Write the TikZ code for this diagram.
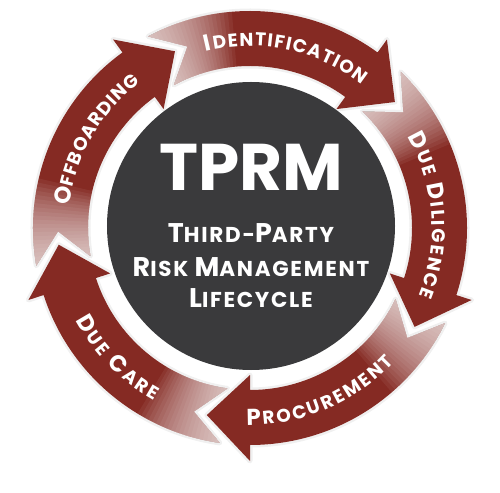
\documentclass[tikz,border=0pt]{standalone}
\usepackage{fontspec}
\setmainfont{Poppins}
\newfontfamily\hubfont{Poppins}[LetterSpace=8]
\usetikzlibrary{decorations.text}
\definecolor{arrowred}{RGB}{133,42,35}
\definecolor{hubgray}{RGB}{58,58,60}
\newcommand\lblbig{\fontsize{23}{23}\selectfont\bfseries}
\newcommand\lblsmall{\fontsize{18.5}{19}\selectfont\bfseries}
\newcommand\subbig{\fontsize{27}{27}\selectfont\bfseries}
\newcommand\subsmall{\fontsize{21.5}{22}\selectfont\bfseries}
\tikzset{
  lbl/.style={decorate, decoration={text along path, text align={fit to path}, text color=white, text={#1}}},
  hubtext/.style={text=white, inner sep=0pt, anchor=base, font=\hubfont},
}
\begin{document}
\begin{tikzpicture}[x=1pt,y=1pt]
\useasboundingbox (-250,-264) rectangle (250,228);
\def\Ro{217}\def\Ri{162}\def\Rm{192}\def\Rbo{233}\def\Rbi{147}
\foreach \T in {41,-31,-103,-175,113}{
  \pgfmathsetmacro\B{\T+13}
  \pgfmathsetmacro\C{\T+77}
  \pgfmathsetmacro\N{\T+68}
  \pgfmathsetmacro\Cx{\T+80}
  \draw[black!6, line width=5pt, line join=round] (\T:\Rm) -- (\B:\Rbo) -- (\B:\Ro) arc[start angle=\B, end angle=\C, radius=\Ro] -- (\N:\Rm) -- (\C:\Ri) arc[start angle=\C,end angle=\B,radius=\Ri] -- (\B:\Rbi) -- cycle;
}
\foreach \T in {41,-31,-103,-175,113}{
  \pgfmathsetmacro\B{\T+13}
  \pgfmathsetmacro\C{\T+77}
  \pgfmathsetmacro\N{\T+68}
  \pgfmathsetmacro\Cx{\T+80}
  \fill[white] (\T:\Rm) -- (\B:\Rbo) -- (\B:\Ro) arc[start angle=\B, end angle=\C, radius=\Ro] -- (\N:\Rm) -- (\C:\Ri) arc[start angle=\C,end angle=\B,radius=\Ri] -- (\B:\Rbi) -- cycle;
  \fill[arrowred] (\T:\Rm) -- (\B:\Rbo) -- (\B:\Ro) arc[start angle=\B, end angle=\C, radius=\Ro] -- (\N:\Rm) -- (\C:\Ri) arc[start angle=\C,end angle=\B,radius=\Ri] -- (\B:\Rbi) -- cycle;
  \begin{scope}
    \clip (\T:\Rm) -- (\B:\Rbo) -- (\B:\Ro) arc[start angle=\B, end angle=\C, radius=\Ro] -- (\N:\Rm) -- (\C:\Ri) arc[start angle=\C,end angle=\B,radius=\Ri] -- (\B:\Rbi) -- cycle;
    \foreach \k in {1,...,22}{
      \pgfmathsetmacro\E{\C+1-\k*1.1}
      \fill[white, opacity=0.06] (0,0) -- (\Cx:260) arc[start angle=\Cx, end angle=\E, radius=260] -- cycle;
    }
  \end{scope}
}
% hub
\fill[hubgray] (1,2) circle[radius=144];
\node[hubtext, font=\fontsize{66}{66}\selectfont\bfseries] (tprm) at (1,37) {TPRM};
\node[hubtext] (l1) at (1,-15) {\subbig T\subsmall HIRD-\subbig P\subsmall ARTY};
\node[hubtext] (l2) at (1,-49) {\subbig R\subsmall ISK \subbig M\subsmall ANAGEMENT};
\node[hubtext] (l3) at (1,-80) {\subbig L\subsmall IFECYCLE};
% labels
\path[lbl={|\lblbig|I|\lblsmall|DENTIFICATION}] (104:182) arc[start angle=104, end angle=52, radius=182];
\path[lbl={|\lblbig|D|\lblsmall|UE |\lblbig|D|\lblsmall|ILIGENCE}] (30:182) arc[start angle=30, end angle=-22, radius=182];
\path[lbl={|\lblbig|O|\lblsmall|FFBOARDING}] (173:182) arc[start angle=173, end angle=127, radius=182];
\path[lbl={|\lblbig|P|\lblsmall|ROCUREMENT}] (-91:197) arc[start angle=-91, end angle=-43, radius=197];
\path[lbl={|\lblbig|D|\lblsmall|UE |\lblbig|C|\lblsmall|ARE}] (-152:197) arc[start angle=-152, end angle=-119, radius=197];
\end{tikzpicture}
\end{document}
